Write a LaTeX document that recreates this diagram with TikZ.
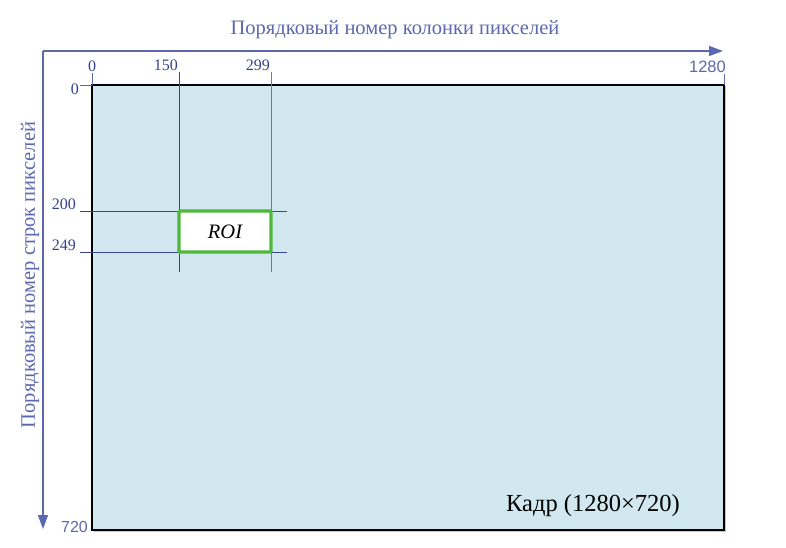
\documentclass[tikz,border=0pt]{standalone}
\usepackage{fontspec}
\setmainfont{Liberation Serif}
\newfontfamily\axisfont{Liberation Sans}
\usetikzlibrary{arrows.meta,positioning,shadows}
\definecolor{axisblue}{HTML}{5B67AE}
\definecolor{ticktext}{HTML}{33408F}
\definecolor{guideblue}{HTML}{3A4590}
\definecolor{framefill}{HTML}{D2E8F0}
\definecolor{roigreen}{HTML}{4DB83A}

\begin{document}
\begin{tikzpicture}[x=1pt, y=-1pt, font=\fontsize{16}{18}\selectfont]
\tikzstyle{axis}=[draw=axisblue, line width=1.3pt, -{Triangle[length=14pt,width=10pt]}]
\tikzstyle{guide}=[draw=guideblue, line width=0.6pt]
\tikzstyle{tick}=[text=ticktext, inner sep=1pt]
\tikzstyle{title}=[text=axisblue, font=\fontsize{20.5}{22}\selectfont]
\useasboundingbox (0,0) rectangle (786,548);
% frame
\node[draw=black, line width=1.8pt, fill=framefill, inner sep=0, outer sep=0, minimum width=632pt, minimum height=445pt, anchor=north west,
  drop shadow={shadow xshift=1.5pt, shadow yshift=-1.5pt, opacity=.45, fill=gray}] (frame) at (92,85) {};
\node[font=\fontsize{24.5}{26}\selectfont] (kadr) at (593,506) {Кадр (1280×720)};
% axes
\coordinate (o) at (43,51);
\coordinate (xend) at (723,51);
\coordinate (yend) at (43,529);
\draw[axis] (o) -- (xend);
\draw[axis] (o) -- (yend);
\node[title] (xtitle) at (395,30) {Порядковый номер колонки пикселей};
\node[title, rotate=90] (ytitle) at (30,275) {Порядковый номер строк пикселей};
% guide lines
\coordinate (c150) at (179,72);
\coordinate (c299) at (271,72);
\coordinate (r200) at (80,211);
\coordinate (r249) at (80,252);
\draw[guide] (c150) -- ++(0,200);
\draw[guide, draw=axisblue!90] (c299) -- ++(0,200);
\draw[guide] (r200) -- ++(207,0);
\draw[guide] (r249) -- ++(207,0);
\coordinate (c0) at (92,73);
\coordinate (c1280) at (724,74);
\coordinate (r0) at (80,85);
\draw[guide, draw=axisblue] (c0) -- (frame.north west);
\draw[guide, draw=axisblue] (c1280) -- (frame.north east);
\draw[guide, draw=axisblue] (r0) -- (frame.north west);
% region of interest
\node[draw=roigreen, line width=3.4pt, rounded corners=1pt, fill=white, inner sep=0, outer sep=0, minimum width=92pt, minimum height=41pt, anchor=north west,
  font=\itshape\fontsize{20.5}{22}\selectfont] (roi) at (c150 |- r200) {ROI};
% tick labels
\node[tick, anchor=south] (l0) at (c0) {0};
\node[tick, anchor=south east] (l150) at (c150) {150};
\node[tick, anchor=south east] (l299) at (c299) {299};
\node[tick, anchor=south east, font=\axisfont\fontsize{16.5}{18}\selectfont, text=axisblue] (l1280) at ([xshift=3pt]c1280) {1280};
\node[tick, anchor=east] (lr0) at ([yshift=-4pt]r0) {0};
\node[tick, anchor=south east] (l200) at ([xshift=-3pt]r200) {200};
\node[tick, anchor=south east] (l249) at ([xshift=-3pt]r249) {249};
\node[tick, anchor=base east, font=\axisfont\fontsize{16}{18}\selectfont, text=axisblue] (l720) at (89,532) {720};
\end{tikzpicture}
\end{document}
